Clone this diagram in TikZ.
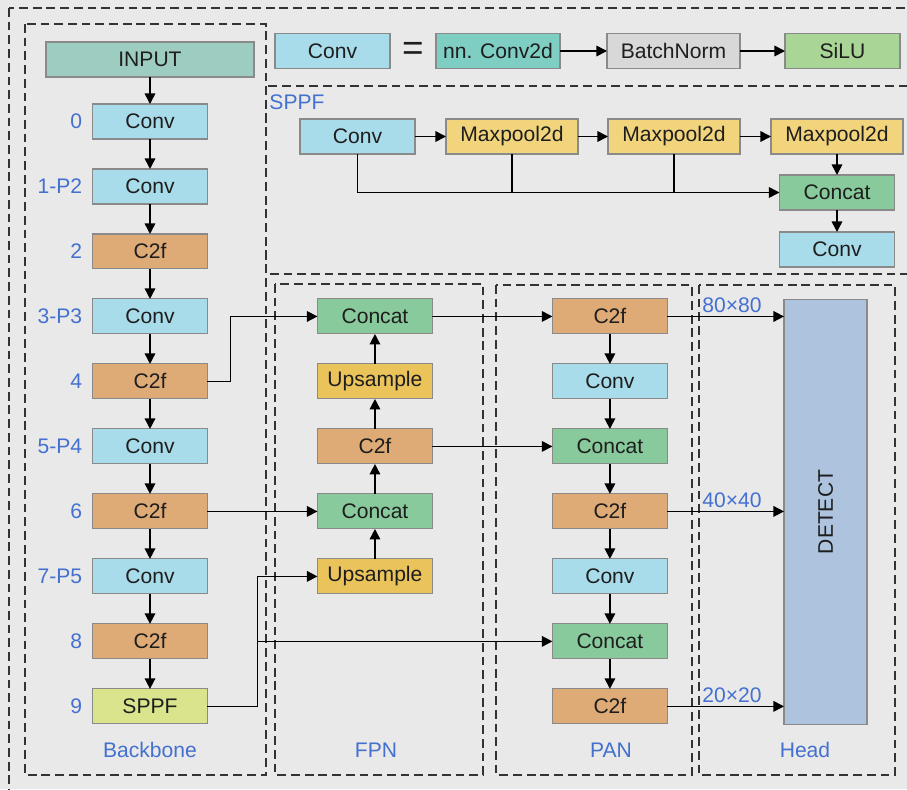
\documentclass[tikz,border=0pt]{standalone}
\usepackage{fontspec}
\setmainfont{Liberation Sans}
\usetikzlibrary{arrows.meta, positioning}

\definecolor{bggray}{HTML}{E9E9E9}
\definecolor{framegray}{HTML}{333333}
\definecolor{boxline}{HTML}{8A8A8A}
\definecolor{textdark}{HTML}{1E1E1E}
\definecolor{tagblue}{HTML}{4470CF}
\definecolor{inputteal}{HTML}{9DCCC1}
\definecolor{convblue}{HTML}{A8DCEA}
\definecolor{c2forange}{HTML}{DEAA76}
\definecolor{concatgreen}{HTML}{88CA9B}
\definecolor{upyellow}{HTML}{EAC45A}
\definecolor{mpyellow}{HTML}{F1D47B}
\definecolor{sppfgreen}{HTML}{DAE48C}
\definecolor{nnteal}{HTML}{7FCEC4}
\definecolor{bngray}{HTML}{D8D8D8}
\definecolor{silugreen}{HTML}{A9D597}
\definecolor{detblue}{HTML}{ADC3DE}

\begin{document}
\begin{tikzpicture}[
    x=0.02cm, y=-0.02cm,
    font=\fontsize{12}{14}\selectfont,
    node distance=6mm and 22mm,
    blk/.style={draw=boxline, line width=0.6pt, minimum width=2.3cm, minimum height=0.7cm, inner sep=0pt, outer sep=0pt, text=textdark},
    conv/.style={blk, fill=convblue},
    c2f/.style={blk, fill=c2forange},
    concat/.style={blk, fill=concatgreen},
    upsmp/.style={blk, fill=upyellow},
    maxp/.style={blk, fill=mpyellow, minimum width=2.64cm},
    tag/.style={text=tagblue, inner sep=0pt},
    frame/.style={draw=framegray, dash pattern=on 5pt off 2.8pt, line width=0.75pt},
    arr/.style={-{Triangle[length=6pt, width=6pt]}, line width=0.9pt},
    wire/.style={line width=0.9pt}
]
\fill[bggray] (0,0) rectangle (907,789);
\useasboundingbox (0,0) rectangle (907,789);
\clip (0,0) rectangle (907,789);

% dashed frames
\draw[frame] (9,8) rectangle (940,820);
\draw[frame] (25,24) rectangle (266,775);
\draw[frame] (266,86) rectangle (940,274);
\draw[frame] (275,284) rectangle (483,775);
\draw[frame] (496,285) rectangle (692,775);
\draw[frame] (699,285) rectangle (895,775);

% legend
\node[conv] (lconv) at (332.5,51) {Conv};
\node[font=\fontsize{21}{21}\selectfont, text=textdark, inner sep=0pt] (eq) at (413,51) {=};
\node[blk, fill=nnteal, minimum width=2.48cm] (nnc) at (498,51) {nn. Conv2d};
\node[blk, fill=bngray, minimum width=2.66cm] (bn) at (673.5,51) {BatchNorm};
\node[blk, fill=silugreen] (silu) at (842.5,51) {SiLU};

\draw[arr] (nnc) -- (bn);
\draw[arr] (bn) -- (silu);

% SPPF block
\node[tag] (sppfl) at (297,102) {SPPF};
\node[conv] (sc) at (357.5,136.5) {Conv};
\node[maxp] (m1) at (512,136.5) {Maxpool2d};
\node[maxp] (m2) at (674,136.5) {Maxpool2d};
\node[maxp] (m3) at (837,136.5) {Maxpool2d};
\node[concat, below=4.2mm of m3] (scat) {Concat};
\node[conv, below=4.4mm of scat] (sconv) {Conv};

\draw[arr] (sc) -- (m1);
\draw[arr] (m1) -- (m2);
\draw[arr] (m2) -- (m3);
\draw[arr] (m3) -- (scat);
\draw[arr] (scat) -- (sconv);
\draw[arr] (sc.south) |- (scat.west);
\draw[wire] (m1.south) -- (m1.south |- scat.west);
\draw[wire] (m2.south) -- (m2.south |- scat.west);

% backbone
\node[blk, fill=inputteal, minimum width=4.16cm] (input) at (150,59.5) {INPUT};
\node[conv, below=5.4mm of input] (b0) {Conv};
\node[conv, below=of b0] (b1) {Conv};
\node[c2f, below=of b1] (b2) {C2f};
\node[conv, below=of b2] (b3) {Conv};
\node[c2f, below=of b3] (b4) {C2f};
\node[conv, below=of b4] (b5) {Conv};
\node[c2f, below=of b5] (b6) {C2f};
\node[conv, below=of b6] (b7) {Conv};
\node[c2f, below=of b7] (b8) {C2f};
\node[blk, fill=sppfgreen, below=of b8] (b9) {SPPF};

\node[tag, left=2mm of b0] (t0) {0};
\node[tag, left=2mm of b1] (t1) {1-P2};
\node[tag, left=2mm of b2] (t2) {2};
\node[tag, left=2mm of b3] (t3) {3-P3};
\node[tag, left=2mm of b4] (t4) {4};
\node[tag, left=2mm of b5] (t5) {5-P4};
\node[tag, left=2mm of b6] (t6) {6};
\node[tag, left=2mm of b7] (t7) {7-P5};
\node[tag, left=2mm of b8] (t8) {8};
\node[tag, left=2mm of b9] (t9) {9};

\draw[arr] (input) -- (b0);
\draw[arr] (b0) -- (b1);
\draw[arr] (b1) -- (b2);
\draw[arr] (b2) -- (b3);
\draw[arr] (b3) -- (b4);
\draw[arr] (b4) -- (b5);
\draw[arr] (b5) -- (b6);
\draw[arr] (b6) -- (b7);
\draw[arr] (b7) -- (b8);
\draw[arr] (b8) -- (b9);

% FPN
\node[concat, right=of b3] (f0) {Concat};
\node[upsmp, right=of b4] (f1) {Upsample};
\node[c2f, right=of b5] (f2) {C2f};
\node[concat, right=of b6] (f3) {Concat};
\node[upsmp, right=of b7] (f4) {Upsample};

\draw[arr] (f4) -- (f3);
\draw[arr] (f3) -- (f2);
\draw[arr] (f2) -- (f1);
\draw[arr] (f1) -- (f0);

% PAN
\node[c2f, right=24mm of f0] (p0) {C2f};
\node[conv, below=of p0] (p1) {Conv};
\node[concat, below=of p1] (p2) {Concat};
\node[c2f, below=of p2] (p3) {C2f};
\node[conv, below=of p3] (p4) {Conv};
\node[concat, below=of p4] (p5) {Concat};
\node[c2f, below=of p5] (p6) {C2f};

\draw[arr] (p0) -- (p1);
\draw[arr] (p1) -- (p2);
\draw[arr] (p2) -- (p3);
\draw[arr] (p3) -- (p4);
\draw[arr] (p4) -- (p5);
\draw[arr] (p5) -- (p6);

% head
\node[blk, fill=detblue, minimum width=1.66cm, minimum height=8.52cm] (det) at (825.5,512) {\rotatebox{90}{DETECT}};
\node[tag, anchor=south west] (s80) at (702,313) {80×80};
\node[tag, anchor=south west] (s40) at (702,508) {40×40};
\node[tag, anchor=south west] (s20) at (702,703) {20×20};

\draw[arr] (p0.east) -- (p0.east -| det.west);
\draw[arr] (p3.east) -- (p3.east -| det.west);
\draw[arr] (p6.east) -- (p6.east -| det.west);

% cross links
\coordinate (jn) at ([xshift=1cm]b9.east);
\draw[arr] (b4.east) -- ++(23,0) |- (f0.west);
\draw[arr] (b6) -- (f3);
\draw[arr] (b9.east) -- (jn) |- (f4.west);
\draw[arr] (jn |- p5.west) -- (p5.west);
\draw[arr] (f0) -- (p0);
\draw[arr] (f2) -- (p2);

% section names
\node[tag] (nbb) at (150,750) {Backbone};
\node[tag] (nfpn) at (376,750) {FPN};
\node[tag] (npan) at (611,750) {PAN};
\node[tag] (nhead) at (805,750) {Head};
\end{tikzpicture}
\end{document}
